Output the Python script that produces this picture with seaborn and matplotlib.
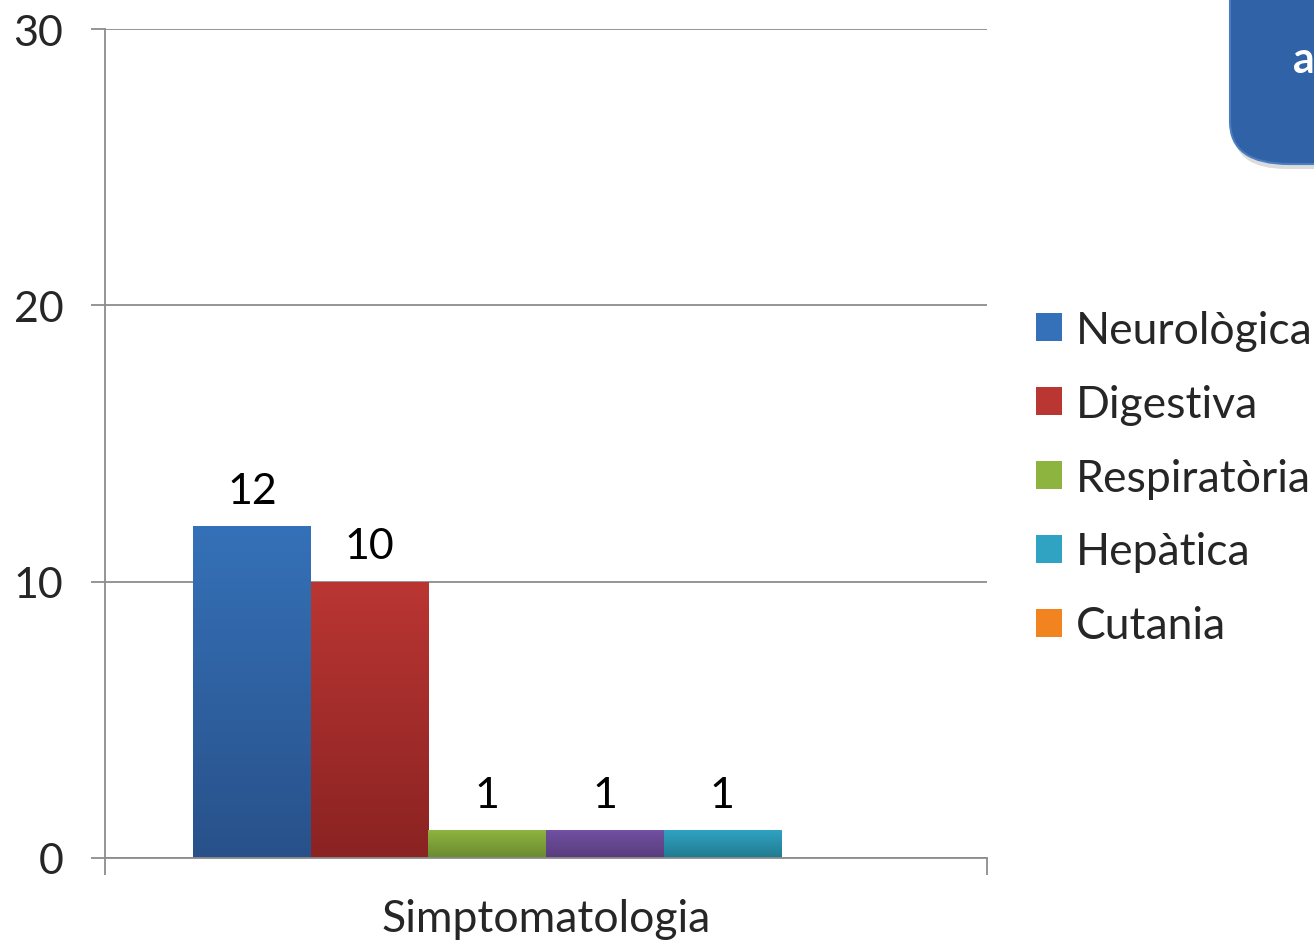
import numpy as np
import pandas as pd
import matplotlib
matplotlib.use("Agg")
import matplotlib.pyplot as plt
import seaborn as sns
from matplotlib.patches import Patch, FancyBboxPatch
from matplotlib.colors import LinearSegmentedColormap

# Data
category = ["Simptomatologia"]
series = ["Neurològica", "Digestiva", "Respiratòria", "Altres", "Hepàtica", "Cutania"]
values = [12, 10, 1, 1, 1, 0]
legend_series = ["Neurològica", "Digestiva", "Respiratòria", "Hepàtica", "Cutania"]
yticks = [0, 10, 20, 30]

# Colours: (top, bottom) of each bar's vertical gradient
top_colors = ["#3571B8", "#BA3633", "#8EB440", "#7250A2", "#30A2C2", "#F2841F"]
bottom_colors = ["#28518A", "#8A2322", "#6A8A30", "#573D7C", "#217A90", "#C0651A"]

df = pd.DataFrame({"cat": category * len(series), "serie": series, "valor": values})

sns.set_theme(style="white")
plt.rcParams["font.family"] = ["Lato", "DejaVu Sans"]

fig = plt.figure(figsize=(13.14, 9.45), dpi=100)
ax = fig.add_axes([105 / 1314, 1 - 859 / 945, (987 - 105) / 1314, (859 - 30) / 945])

palette = dict(zip(series, top_colors))
sns.barplot(data=df, x="cat", y="valor", hue="serie", hue_order=series,
            palette=palette, ax=ax, legend=False, saturation=1, width=0.8,
            linewidth=0)

# Gradient fill for each bar plus value labels
for patch, val, ct, cb in zip(ax.patches, values, top_colors, bottom_colors):
    x0, w = patch.get_x(), patch.get_width()
    h = patch.get_height()
    if h > 0:
        cmap = LinearSegmentedColormap.from_list("g", [cb, ct])
        grad = np.linspace(0, 1, 256).reshape(-1, 1)
        im = ax.imshow(grad, cmap=cmap, origin="lower", aspect="auto",
                       extent=(x0, x0 + w, 0, h), zorder=patch.get_zorder() + 0.1)
        im.set_clip_path(patch)
        ax.text(x0 + w / 2, h + 0.6, f"{val}", ha="center", va="bottom",
                fontsize=31, color="black", zorder=5)
ax.set_xlim(-0.5, 0.5)
ax.set_ylim(0, 30)

# Axes styling
ax.set_yticks(yticks)
ax.set_yticklabels([str(t) for t in yticks], fontsize=31)
ax.yaxis.grid(True, color="#8C8C8C", linewidth=1.3)
ax.set_axisbelow(True)
for s in ["top", "right"]:
    ax.spines[s].set_visible(False)
for s in ["left", "bottom"]:
    ax.spines[s].set_color("#8C8C8C")
    ax.spines[s].set_linewidth(1.3)
ax.tick_params(axis="y", length=10, width=1.3, color="#8C8C8C", pad=20, left=True)
ax.set_xticks([0])
ax.set_xticklabels(category, fontsize=32)
ax.tick_params(axis="x", which="major", length=0, pad=29)
ax.set_xticks([-0.5, 0.5], minor=True)
ax.tick_params(axis="x", which="minor", length=12, width=1.3, color="#8C8C8C", bottom=True)
ax.set_xlabel("")
ax.set_ylabel("")

# Legend
handles = [Patch(facecolor=top_colors[series.index(s)], edgecolor="none", label=s)
           for s in legend_series]
fig.legend(handles=handles, loc="upper left", bbox_to_anchor=(1018 / 1314, 1 - 293 / 945),
           frameon=False, fontsize=32, handlelength=0.6, handleheight=0.6,
           handletextpad=0.3, labelspacing=0.74, borderaxespad=0)

# Rounded title box in the upper right corner
shadow = FancyBboxPatch((1234 / 1314, 1 - 170 / 945), 0.2, 0.25,
                        boxstyle="round,pad=0,rounding_size=0.04",
                        transform=fig.transFigure, facecolor="#BBBBBB",
                        edgecolor="none", alpha=0.5, zorder=1)
box = FancyBboxPatch((1230 / 1314, 1 - 165 / 945), 0.2, 0.25,
                     boxstyle="round,pad=0,rounding_size=0.045",
                     transform=fig.transFigure, facecolor="#2F62A6",
                     edgecolor="#4A7CC0", linewidth=1.5, zorder=2)
fig.patches.extend([shadow, box])
fig.text(1293 / 1314, 1 - 60 / 945, "a", fontsize=31, fontweight="bold",
         color="white", ha="left", va="center", zorder=3)

fig.savefig("out.png", dpi=100)
